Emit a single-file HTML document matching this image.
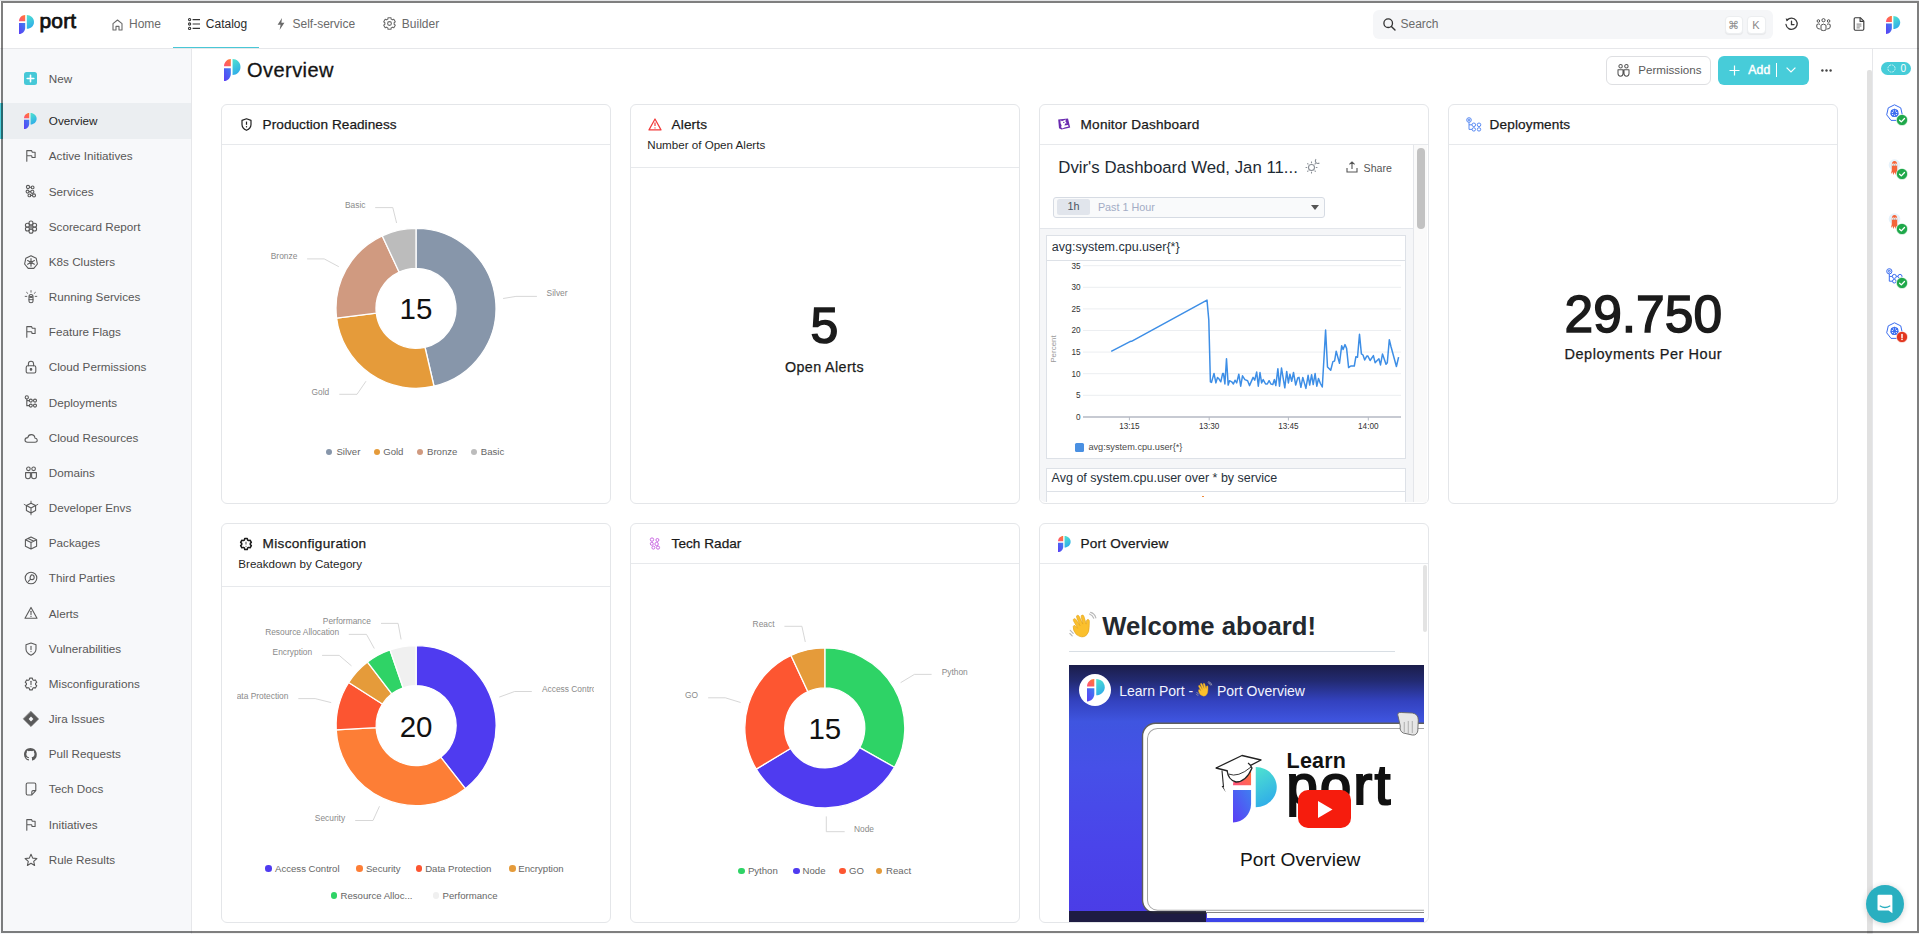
<!DOCTYPE html><html><head><meta charset="utf-8"><title>Port - Overview</title><style>
*{box-sizing:border-box;margin:0;padding:0}
html,body{width:1919px;height:934px;overflow:hidden;background:#fff;font-family:"Liberation Sans",Arial,sans-serif;color:#1f1f1f}
.a{position:absolute}
.t{position:absolute;white-space:nowrap;line-height:1}
svg{position:absolute;overflow:visible}
.card{position:absolute;width:390px;height:400px;border:1px solid #e4e6e9;border-radius:6px;background:#fff;overflow:hidden}
.cs{position:absolute;left:16px;top:34px;font-size:11.6px;color:#1f1f1f;white-space:nowrap}
.cd{position:absolute;left:0;right:0;height:1px;background:#e6e8eb}
.sb{position:absolute;left:49px;font-size:11.7px;color:#575757;white-space:nowrap;line-height:1}
.lg{position:absolute;font-size:9.6px;color:#666;white-space:nowrap;line-height:1}
.dot{position:absolute;width:7px;height:7px;border-radius:50%}
.pl{font-family:"Liberation Sans",Arial,sans-serif;font-size:8.4px;fill:#8a8a8a}
</style></head><body>
<div class="a" style="left:0;top:0;width:1919px;height:1px;background:#e3e4e6"></div>
<div class="a" style="left:0;top:933px;width:1919px;height:1px;background:#f4f4f4"></div>
<div class="a" style="left:0;top:1px;width:1919px;height:47px;background:#fff"></div>
<div class="a" style="left:0;top:48px;width:1919px;height:1px;background:#e6e7ea"></div>
<svg style="left:19px;top:15px" width="15.00" height="19.00" viewBox="0 0 15 19" preserveAspectRatio="none">
<defs><linearGradient id="lgna" x1="0" y1="1" x2="1" y2="0"><stop offset="0" stop-color="#ff4f7a"/><stop offset="1" stop-color="#ff7a2f"/></linearGradient>
<linearGradient id="lgnb" x1="0" y1="1" x2="1" y2="0"><stop offset="0" stop-color="#5b3df5"/><stop offset="1" stop-color="#3f7ff0"/></linearGradient>
<linearGradient id="lgnc" x1="0" y1="0" x2="0.3" y2="1"><stop offset="0" stop-color="#4fe3cf"/><stop offset="1" stop-color="#30aee8"/></linearGradient></defs>
<path d="M0 6.3 L6.2 6.3 L6.2 0 C2.8 0 0 2.8 0 6.3Z" fill="url(#lgna)"/>
<path d="M0 7.9 L6.2 7.9 L6.2 12.7 C6.2 16.1 3.4 19 0 19Z" fill="url(#lgnb)"/>
<path d="M7.8 0 C11.6 0 15 3 15 6.9 C15 10.8 11.6 13.8 7.8 13.8Z" fill="url(#lgnc)"/>
</svg>
<div class="t" style="left:39.60px;top:9.92px;font-size:21px;color:#111;-webkit-text-stroke:0.75px #111;letter-spacing:0.1px;">port</div>
<svg style="left:112px;top:18.5px" width="11" height="12" viewBox="0 0 11 12"><path d="M1 11V4.6L5.5 1 10 4.6V11H7V7.4H4V11Z" fill="none" stroke="#6a6a6a" stroke-width="1.1" stroke-linejoin="round"/></svg>
<div class="t" style="left:129.00px;top:17.84px;font-size:12px;color:#6a6a6a;">Home</div>
<svg style="left:188px;top:18px" width="13" height="12" viewBox="0 0 13 12"><g fill="none" stroke="#333" stroke-width="1.1"><circle cx="1.6" cy="1.6" r="1.1"/><circle cx="1.6" cy="6" r="1.1"/><circle cx="1.6" cy="10.4" r="1.1"/><path d="M4.6 1.6H12M4.6 6H12M4.6 10.4H12"/></g></svg>
<div class="t" style="left:205.80px;top:17.84px;font-size:12px;color:#2a2a2a;">Catalog</div>
<div class="a" style="left:173px;top:46.6px;width:86px;height:1.6px;background:#49c7d6"></div>
<svg style="left:277px;top:17.8px" width="8" height="12" viewBox="0 0 8 12"><path d="M5 0 L0.6 6.8 H3.6 L2.6 12 L7.4 4.8 H4.4 Z" fill="#6a6a6a"/></svg>
<div class="t" style="left:292.50px;top:17.84px;font-size:12px;color:#6a6a6a;">Self-service</div>
<svg style="left:383px;top:17.4px" width="13" height="13" viewBox="0 0 13 13"><path d="M4.82 2.11 L5.05 0.68 L7.95 0.68 L8.18 2.11 L9.46 2.85 L10.82 2.33 L12.27 4.85 L11.14 5.76 L11.14 7.24 L12.27 8.15 L10.82 10.67 L9.46 10.15 L8.18 10.89 L7.95 12.32 L5.05 12.32 L4.82 10.89 L3.54 10.15 L2.18 10.67 L0.73 8.15 L1.86 7.24 L1.86 5.76 L0.73 4.85 L2.18 2.33 L3.54 2.85Z" fill="none" stroke="#6a6a6a" stroke-width="1.1" stroke-linejoin="round"/><circle cx="6.5" cy="6.5" r="1.9" fill="none" stroke="#6a6a6a" stroke-width="1.1"/></svg>
<div class="t" style="left:401.80px;top:17.84px;font-size:12px;color:#6a6a6a;">Builder</div>
<div class="a" style="left:1373px;top:10px;width:400px;height:29px;background:#f5f6f8;border-radius:6px"></div>
<svg style="left:1382.5px;top:18px" width="13" height="13" viewBox="0 0 13 13"><circle cx="5.2" cy="5.2" r="4.3" fill="none" stroke="#333" stroke-width="1.3"/><path d="M8.4 8.4 L12 12" stroke="#333" stroke-width="1.4" stroke-linecap="round"/></svg>
<div class="t" style="left:1400.50px;top:18.04px;font-size:12px;color:#6b6b6b;">Search</div>
<div class="a" style="left:1724.5px;top:16px;width:18px;height:18px;background:#fff;border:1px solid #eceef0;border-radius:4px;box-shadow:0 1px 1px rgba(0,0,0,0.06)"></div>
<div class="t" style="left:1724.50px;width:18px;text-align:center;top:19.69px;font-size:11px;color:#8a8a8a;">&#8984;</div>
<div class="a" style="left:1746.5px;top:16px;width:19px;height:18px;background:#fff;border:1px solid #eceef0;border-radius:4px;box-shadow:0 1px 1px rgba(0,0,0,0.06)"></div>
<div class="t" style="left:1746.50px;width:19px;text-align:center;top:19.69px;font-size:11px;color:#8a8a8a;">K</div>
<svg style="left:1785px;top:17px" width="13" height="14" viewBox="0 0 13 14"><g fill="none" stroke="#3a3a3a" stroke-width="1.3" stroke-linecap="round"><path d="M2.2 3.2 A5.6 5.6 0 1 1 1 7.5"/><path d="M6.5 4.2V7.6H9"/></g><path d="M0.6 1.4 L3.6 1.9 L1.8 4.6Z" fill="#3a3a3a"/></svg>
<svg style="left:1816px;top:17.5px" width="15" height="13" viewBox="0 0 15 13"><g fill="none" stroke="#4a4a4a" stroke-width="0.95"><circle cx="7.5" cy="2.2" r="1.6"/><circle cx="2.4" cy="3" r="1.3"/><circle cx="12.6" cy="3" r="1.3"/><path d="M5 12 V7.2 Q7.5 5 10 7.2 V12 Q7.5 13.2 5 12Z"/><path d="M3.9 11 Q1 11 0.8 9 V6.6 Q2.3 5.4 4 6.3"/><path d="M11.1 11 Q14 11 14.2 9 V6.6 Q12.7 5.4 11 6.3"/></g></svg>
<svg style="left:1853px;top:17.2px" width="12" height="14" viewBox="0 0 12 14"><g fill="none" stroke="#3a3a3a" stroke-width="1.15" stroke-linejoin="round"><path d="M1.2 1.8 Q1.2 0.7 2.3 0.7 H7.3 L10.8 4.2 V12 Q10.8 13.2 9.7 13.2 H2.3 Q1.2 13.2 1.2 12Z"/><path d="M7.1 0.8 V4.4 H10.7"/></g><path d="M3.6 7.1 H8.4 M3.6 9 H8.4 M3.6 10.9 H6.8" stroke="#555" stroke-width="0.75"/></svg>
<svg style="left:1886px;top:15.5px" width="14.21" height="18.00" viewBox="0 0 15 19" preserveAspectRatio="none">
<defs><linearGradient id="lgn2a" x1="0" y1="1" x2="1" y2="0"><stop offset="0" stop-color="#ff4f7a"/><stop offset="1" stop-color="#ff7a2f"/></linearGradient>
<linearGradient id="lgn2b" x1="0" y1="1" x2="1" y2="0"><stop offset="0" stop-color="#5b3df5"/><stop offset="1" stop-color="#3f7ff0"/></linearGradient>
<linearGradient id="lgn2c" x1="0" y1="0" x2="0.3" y2="1"><stop offset="0" stop-color="#4fe3cf"/><stop offset="1" stop-color="#30aee8"/></linearGradient></defs>
<path d="M0 6.3 L6.2 6.3 L6.2 0 C2.8 0 0 2.8 0 6.3Z" fill="url(#lgn2a)"/>
<path d="M0 7.9 L6.2 7.9 L6.2 12.7 C6.2 16.1 3.4 19 0 19Z" fill="url(#lgn2b)"/>
<path d="M7.8 0 C11.6 0 15 3 15 6.9 C15 10.8 11.6 13.8 7.8 13.8Z" fill="url(#lgn2c)"/>
</svg>
<div class="a" style="left:0;top:49px;width:191px;height:885px;background:#f7f8fa"></div>
<div class="a" style="left:191px;top:49px;width:1px;height:885px;background:#e6e7ea"></div>
<div class="a" style="left:0;top:103px;width:191px;height:36px;background:#ebeef1"></div>
<div class="a" style="left:0;top:103px;width:3px;height:36px;background:#4ed0de"></div>
<div class="a" style="left:24px;top:72.4px;width:13px;height:13px;background:#46c8d7;border-radius:2.5px"></div>
<svg style="left:24px;top:72.4px" width="13" height="13" viewBox="0 0 13 13"><path d="M6.5 3.2V9.8M3.2 6.5H9.8" stroke="#fff" stroke-width="1.6" stroke-linecap="round"/></svg>
<div class="sb" style="left:48.80px;top:73.10px;font-size:11.7px;color:#575757;">New</div>
<svg style="left:24px;top:113px" width="12.63" height="16.00" viewBox="0 0 15 19" preserveAspectRatio="none">
<defs><linearGradient id="lgsba" x1="0" y1="1" x2="1" y2="0"><stop offset="0" stop-color="#ff4f7a"/><stop offset="1" stop-color="#ff7a2f"/></linearGradient>
<linearGradient id="lgsbb" x1="0" y1="1" x2="1" y2="0"><stop offset="0" stop-color="#5b3df5"/><stop offset="1" stop-color="#3f7ff0"/></linearGradient>
<linearGradient id="lgsbc" x1="0" y1="0" x2="0.3" y2="1"><stop offset="0" stop-color="#4fe3cf"/><stop offset="1" stop-color="#30aee8"/></linearGradient></defs>
<path d="M0 6.3 L6.2 6.3 L6.2 0 C2.8 0 0 2.8 0 6.3Z" fill="url(#lgsba)"/>
<path d="M0 7.9 L6.2 7.9 L6.2 12.7 C6.2 16.1 3.4 19 0 19Z" fill="url(#lgsbb)"/>
<path d="M7.8 0 C11.6 0 15 3 15 6.9 C15 10.8 11.6 13.8 7.8 13.8Z" fill="url(#lgsbc)"/>
</svg>
<div class="sb" style="left:48.80px;top:115.20px;font-size:11.7px;color:#1f1f1f;">Overview</div>
<svg style="left:23.5px;top:149.27px" width="14" height="14" viewBox="0 0 14 14"><g fill="none" stroke="#5a5a5a" stroke-width="1.1" stroke-linecap="round"><path d="M2.8 12.2 V1.6 H7.5 L8.3 3.2 H11.1 V8.5 H8.1 L7.7 6.8 H2.8" stroke-linejoin="round"/></g></svg>
<div class="sb" style="left:48.80px;top:150.37px;font-size:11.7px;color:#575757;">Active Initiatives</div>
<svg style="left:23.5px;top:184.44px" width="14" height="14" viewBox="0 0 14 14"><g fill="none" stroke="#5a5a5a" stroke-width="1.1" stroke-linecap="round"><circle cx="4" cy="3" r="1.6"/><circle cx="8.6" cy="3.4" r="1.4"/><circle cx="3.6" cy="7.6" r="1.5"/><circle cx="8.3" cy="7.8" r="1.6"/><circle cx="5.4" cy="11.4" r="1.4"/><circle cx="10" cy="11.4" r="1.5"/><path d="M5.5 3.2H7.2M5 7.6H6.7M6.8 11.4H8.5"/></g></svg>
<div class="sb" style="left:48.80px;top:185.54px;font-size:11.7px;color:#575757;">Services</div>
<svg style="left:23.5px;top:219.61px" width="14" height="14" viewBox="0 0 14 14"><g fill="none" stroke="#5a5a5a" stroke-width="1.1" stroke-linecap="round"><circle cx="7" cy="3" r="2"/><circle cx="3.4" cy="5.2" r="2"/><circle cx="10.6" cy="5.2" r="2"/><circle cx="3.4" cy="9" r="2"/><circle cx="10.6" cy="9" r="2"/><circle cx="7" cy="11.2" r="2"/><circle cx="7" cy="7" r="1.2"/></g></svg>
<div class="sb" style="left:48.80px;top:220.71px;font-size:11.7px;color:#575757;">Scorecard Report</div>
<svg style="left:23.5px;top:254.78px" width="14" height="14" viewBox="0 0 14 14"><g fill="none" stroke="#5a5a5a" stroke-width="1.1" stroke-linecap="round"><path d="M7 0.8 L12.2 3.3 L13.4 9 L9.8 13.4 H4.2 L0.6 9 L1.8 3.3Z" stroke-linejoin="round"/><circle cx="7" cy="7.4" r="1.2"/><path d="M7 3.6V11.2 M3.6 5.6 L10.4 9.2 M10.4 5.6 L3.6 9.2"/></g></svg>
<div class="sb" style="left:48.80px;top:255.88px;font-size:11.7px;color:#575757;">K8s Clusters</div>
<svg style="left:23.5px;top:289.95px" width="14" height="14" viewBox="0 0 14 14"><g fill="none" stroke="#5a5a5a" stroke-width="1.1" stroke-linecap="round"><path d="M5 6.6 Q5 4.5 7 4.5 Q9 4.5 9 6.6 V11.2 Q9 12.8 7 12.8 Q5 12.8 5 11.2Z"/><circle cx="6.2" cy="7" r="0.5" fill="#5a5a5a"/><circle cx="7.8" cy="7" r="0.5" fill="#5a5a5a"/><path d="M7 0.6V2.2 M2.6 2.4 L3.8 3.4 M11.4 2.4 L10.2 3.4 M1.2 6.4H2.8 M11.2 6.4H12.8 M5 9.6H9" stroke-width="0.9"/></g></svg>
<div class="sb" style="left:48.80px;top:291.05px;font-size:11.7px;color:#575757;">Running Services</div>
<svg style="left:23.5px;top:325.12px" width="14" height="14" viewBox="0 0 14 14"><g fill="none" stroke="#5a5a5a" stroke-width="1.1" stroke-linecap="round"><path d="M2.8 12.2 V1.6 H7.5 L8.3 3.2 H11.1 V8.5 H8.1 L7.7 6.8 H2.8" stroke-linejoin="round"/></g></svg>
<div class="sb" style="left:48.80px;top:326.22px;font-size:11.7px;color:#575757;">Feature Flags</div>
<svg style="left:23.5px;top:360.29px" width="14" height="14" viewBox="0 0 14 14"><g fill="none" stroke="#5a5a5a" stroke-width="1.1" stroke-linecap="round"><rect x="2.2" y="5.8" width="9.6" height="7.2" rx="1.6"/><path d="M4.4 5.8V4 Q4.4 1.2 7 1.2 Q9.6 1.2 9.6 4V5.8"/><circle cx="7" cy="9.4" r="0.8" fill="#5a5a5a"/></g></svg>
<div class="sb" style="left:48.80px;top:361.39px;font-size:11.7px;color:#575757;">Cloud Permissions</div>
<svg style="left:23.5px;top:395.46px" width="14" height="14" viewBox="0 0 14 14"><g fill="none" stroke="#5a5a5a" stroke-width="1.1" stroke-linecap="round"><circle cx="2.8" cy="2.4" r="1.6"/><circle cx="6.8" cy="5.6" r="1.5"/><circle cx="11" cy="5.6" r="1.5"/><circle cx="6.8" cy="10.6" r="1.5"/><circle cx="11" cy="10.6" r="1.5"/><path d="M2.8 4V10.6 H5.3 M2.8 5.6 H5.3"/></g></svg>
<div class="sb" style="left:48.80px;top:396.56px;font-size:11.7px;color:#575757;">Deployments</div>
<svg style="left:23.5px;top:430.63px" width="14" height="14" viewBox="0 0 14 14"><g fill="none" stroke="#5a5a5a" stroke-width="1.1" stroke-linecap="round"><path d="M3.6 11.2 H11 Q13.4 11.2 13.2 9 Q13 7.2 11 7.2 Q10.6 3.6 7.2 3.6 Q4.4 3.6 3.8 6.6 Q1 6.8 1 9 Q1 11.2 3.6 11.2Z" stroke-linejoin="round"/></g></svg>
<div class="sb" style="left:48.80px;top:431.73px;font-size:11.7px;color:#575757;">Cloud Resources</div>
<svg style="left:23.5px;top:465.80px" width="14" height="14" viewBox="0 0 14 14"><g fill="none" stroke="#5a5a5a" stroke-width="1.1" stroke-linecap="round"><circle cx="4.4" cy="2.8" r="1.8"/><circle cx="9.6" cy="2.8" r="1.8"/><path d="M1.6 6.6 V10.6 Q1.6 12.8 4 12.8 Q6.4 12.8 6.4 10.6 V6.6Z M7.6 6.6 V10.6 Q7.6 12.8 10 12.8 Q12.4 12.8 12.4 10.6 V6.6Z" stroke-linejoin="round"/></g></svg>
<div class="sb" style="left:48.80px;top:466.90px;font-size:11.7px;color:#575757;">Domains</div>
<svg style="left:23.5px;top:500.97px" width="14" height="14" viewBox="0 0 14 14"><g fill="none" stroke="#5a5a5a" stroke-width="1.1" stroke-linecap="round"><path d="M7 2.2 L11.6 4.6 V9.6 L7 12 L2.4 9.6 V4.6Z M2.4 4.6 L7 7 L11.6 4.6 M7 7V12" stroke-linejoin="round"/><path d="M7 0.2V2.2 M0.2 3.4 L2.4 4.6 M13.8 3.4 L11.6 4.6 M7 12V13.8" stroke-width="0.9"/></g></svg>
<div class="sb" style="left:48.80px;top:502.07px;font-size:11.7px;color:#575757;">Developer Envs</div>
<svg style="left:23.5px;top:536.14px" width="14" height="14" viewBox="0 0 14 14"><g fill="none" stroke="#5a5a5a" stroke-width="1.1" stroke-linecap="round"><path d="M7 1 L12.6 3.8 V10.2 L7 13 L1.4 10.2 V3.8Z M1.4 3.8 L7 6.6 L12.6 3.8 M7 6.6V13 M4.2 2.4 L9.8 5.2" stroke-linejoin="round"/></g></svg>
<div class="sb" style="left:48.80px;top:537.24px;font-size:11.7px;color:#575757;">Packages</div>
<svg style="left:23.5px;top:571.31px" width="14" height="14" viewBox="0 0 14 14"><g fill="none" stroke="#5a5a5a" stroke-width="1.1" stroke-linecap="round"><circle cx="7" cy="7" r="5.8"/><path d="M4.4 10.4 L6.6 8.2 M7.4 3.8 Q10.2 3.8 10.2 6.4 Q10.2 8.4 8 8.6 L6.6 8.2 Q5.2 6.8 7.4 3.8Z" stroke-linejoin="round"/></g></svg>
<div class="sb" style="left:48.80px;top:572.41px;font-size:11.7px;color:#575757;">Third Parties</div>
<svg style="left:23.5px;top:606.48px" width="14" height="14" viewBox="0 0 14 14"><g fill="none" stroke="#5a5a5a" stroke-width="1.1" stroke-linecap="round"><path d="M7 1.4 L13 12.2 H1Z" stroke-linejoin="round"/><path d="M7 5.2V8.6"/><circle cx="7" cy="10.4" r="0.6" fill="#5a5a5a" stroke="none"/></g></svg>
<div class="sb" style="left:48.80px;top:607.58px;font-size:11.7px;color:#575757;">Alerts</div>
<svg style="left:23.5px;top:641.65px" width="14" height="14" viewBox="0 0 14 14"><g fill="none" stroke="#5a5a5a" stroke-width="1.1" stroke-linecap="round"><path d="M7 1 L12 2.8 V7 Q12 11 7 13.2 Q2 11 2 7 V2.8Z" stroke-linejoin="round"/><path d="M7 4.4V7.6"/><circle cx="7" cy="9.6" r="0.6" fill="#5a5a5a" stroke="none"/></g></svg>
<div class="sb" style="left:48.80px;top:642.75px;font-size:11.7px;color:#575757;">Vulnerabilities</div>
<svg style="left:23.5px;top:676.82px" width="14" height="14" viewBox="0 0 14 14"><g fill="none" stroke="#5a5a5a" stroke-width="1.1" stroke-linecap="round"><path d="M5.28 2.73 L5.65 1.15 L8.35 1.15 L8.72 2.73 L9.83 3.38 L11.39 2.91 L12.74 5.25 L11.56 6.36 L11.56 7.64 L12.74 8.75 L11.39 11.09 L9.83 10.62 L8.72 11.27 L8.35 12.85 L5.65 12.85 L5.28 11.27 L4.17 10.62 L2.61 11.09 L1.26 8.75 L2.44 7.64 L2.44 6.36 L1.26 5.25 L2.61 2.91 L4.17 3.38Z" stroke-linejoin="round"/><path d="M7 4.2V7.6"/><circle cx="7" cy="9.6" r="0.6" fill="#5a5a5a" stroke="none"/></g></svg>
<div class="sb" style="left:48.80px;top:677.92px;font-size:11.7px;color:#575757;">Misconfigurations</div>
<svg style="left:23.5px;top:711.99px" width="14" height="14" viewBox="0 0 14 14"><g fill="none" stroke="#5a5a5a" stroke-width="1.1" stroke-linecap="round"><path d="M7 -0.6 L14.6 7 L7 14.6 L-0.6 7Z" fill="#5a5a5a" stroke="#5a5a5a" stroke-width="0.6" stroke-linejoin="round"/><path d="M7 4.6 L9.4 7 L7 9.4 L4.6 7Z" fill="#f7f8fa" stroke="none"/></g></svg>
<div class="sb" style="left:48.80px;top:713.09px;font-size:11.7px;color:#575757;">Jira Issues</div>
<svg style="left:24.1px;top:747.56px" width="12.8" height="12.8" viewBox="0 0 16 16"><path fill="#5a5a5a" d="M8 0C3.58 0 0 3.58 0 8c0 3.54 2.29 6.53 5.47 7.59.4.07.55-.17.55-.38 0-.19-.01-.82-.01-1.49-2.01.37-2.53-.49-2.69-.94-.09-.23-.48-.94-.82-1.13-.28-.15-.68-.52-.01-.53.63-.01 1.08.58 1.23.82.72 1.21 1.87.87 2.33.66.07-.52.28-.87.51-1.07-1.78-.2-3.64-.89-3.64-3.95 0-.87.31-1.59.82-2.15-.08-.2-.36-1.02.08-2.12 0 0 .67-.21 2.2.82.64-.18 1.32-.27 2-.27.68 0 1.36.09 2 .27 1.53-1.04 2.2-.82 2.2-.82.44 1.1.16 1.92.08 2.12.51.56.82 1.27.82 2.15 0 3.07-1.87 3.75-3.65 3.95.29.25.54.73.54 1.48 0 1.07-.01 1.93-.01 2.2 0 .21.15.46.55.38A8.013 8.013 0 0016 8c0-4.42-3.58-8-8-8z"/></svg>
<div class="sb" style="left:48.80px;top:748.26px;font-size:11.7px;color:#575757;">Pull Requests</div>
<svg style="left:23.5px;top:782.33px" width="14" height="14" viewBox="0 0 14 14"><g fill="none" stroke="#5a5a5a" stroke-width="1.1" stroke-linecap="round"><path d="M2.2 2.4 Q2.2 1 3.6 1 H10.4 Q11.8 1 11.8 2.4 V8.6 L7.8 13 H3.6 Q2.2 13 2.2 11.6Z M11.8 8.6 H9.2 Q7.8 8.6 7.8 10 V13" stroke-linejoin="round"/></g></svg>
<div class="sb" style="left:48.80px;top:783.43px;font-size:11.7px;color:#575757;">Tech Docs</div>
<svg style="left:23.5px;top:817.50px" width="14" height="14" viewBox="0 0 14 14"><g fill="none" stroke="#5a5a5a" stroke-width="1.1" stroke-linecap="round"><path d="M2.8 12.2 V1.6 H7.5 L8.3 3.2 H11.1 V8.5 H8.1 L7.7 6.8 H2.8" stroke-linejoin="round"/></g></svg>
<div class="sb" style="left:48.80px;top:818.60px;font-size:11.7px;color:#575757;">Initiatives</div>
<svg style="left:23.5px;top:852.67px" width="14" height="14" viewBox="0 0 14 14"><g fill="none" stroke="#5a5a5a" stroke-width="1.1" stroke-linecap="round"><path d="M7 1.2 L8.7 5.1 L12.9 5.5 L9.7 8.3 L10.6 12.5 L7 10.3 L3.4 12.5 L4.3 8.3 L1.1 5.5 L5.3 5.1Z" stroke-linejoin="round"/></g></svg>
<div class="sb" style="left:48.80px;top:853.77px;font-size:11.7px;color:#575757;">Rule Results</div>
<svg style="left:223.8px;top:59.2px" width="16.50" height="22.00" viewBox="0 0 15 19" preserveAspectRatio="none">
<defs><linearGradient id="lghda" x1="0" y1="1" x2="1" y2="0"><stop offset="0" stop-color="#ff4f7a"/><stop offset="1" stop-color="#ff7a2f"/></linearGradient>
<linearGradient id="lghdb" x1="0" y1="1" x2="1" y2="0"><stop offset="0" stop-color="#5b3df5"/><stop offset="1" stop-color="#3f7ff0"/></linearGradient>
<linearGradient id="lghdc" x1="0" y1="0" x2="0.3" y2="1"><stop offset="0" stop-color="#4fe3cf"/><stop offset="1" stop-color="#30aee8"/></linearGradient></defs>
<path d="M0 6.3 L6.2 6.3 L6.2 0 C2.8 0 0 2.8 0 6.3Z" fill="url(#lghda)"/>
<path d="M0 7.9 L6.2 7.9 L6.2 12.7 C6.2 16.1 3.4 19 0 19Z" fill="url(#lghdb)"/>
<path d="M7.8 0 C11.6 0 15 3 15 6.9 C15 10.8 11.6 13.8 7.8 13.8Z" fill="url(#lghdc)"/>
</svg>
<div class="t" style="left:247.00px;top:60.07px;font-size:20px;color:#141414;letter-spacing:0.45px;-webkit-text-stroke:0.3px #141414;">Overview</div>
<div class="a" style="left:1606px;top:56px;width:105px;height:29px;border:1px solid #dedfe2;border-radius:6px;background:#fff"></div>
<svg style="left:1616.5px;top:63.5px" width="13" height="13" viewBox="0 0 13 13"><g fill="none" stroke="#555" stroke-width="1.05"><circle cx="3.6" cy="2.2" r="1.7"/><circle cx="9.4" cy="2.2" r="1.7"/><path d="M1 5.8 V9.6 Q1 12.2 3.5 12.2 Q6 12.2 6 9.6 V5.8Z M7 5.8 V9.6 Q7 12.2 9.5 12.2 Q12 12.2 12 9.6 V5.8Z" stroke-linejoin="round"/></g></svg>
<div class="t" style="left:1638.30px;top:64.38px;font-size:11.6px;color:#5a5a5a;">Permissions</div>
<div class="a" style="left:1718px;top:56px;width:91px;height:29px;background:#47ccd9;border-radius:6px"></div>
<svg style="left:1729px;top:64.5px" width="11" height="11" viewBox="0 0 11 11"><path d="M5.5 0.5V10.5M0.5 5.5H10.5" stroke="#fff" stroke-width="1.2"/></svg>
<div class="t" style="left:1748.20px;top:63.97px;font-size:12.2px;color:#fff;-webkit-text-stroke:0.45px #fff;letter-spacing:0.2px;">Add</div>
<div class="a" style="left:1776px;top:63px;width:1px;height:14px;background:#fff"></div>
<svg style="left:1786px;top:67px" width="10" height="6" viewBox="0 0 10 6"><path d="M0.6 0.6 L5 5 L9.4 0.6" fill="none" stroke="#fff" stroke-width="1.2"/></svg>
<svg style="left:1821px;top:68.5px" width="11" height="3" viewBox="0 0 11 3"><circle cx="1.4" cy="1.5" r="1.2" fill="#444"/><circle cx="5.5" cy="1.5" r="1.2" fill="#444"/><circle cx="9.6" cy="1.5" r="1.2" fill="#444"/></svg>
<div class="a" style="left:1867px;top:70px;width:4.5px;height:864px;background:#e1e1e1;border-radius:2px 2px 0 0"></div>
<div class="a" style="left:1871.5px;top:49px;width:1px;height:885px;background:#e6e7ea"></div>
<div class="a" style="left:1881px;top:62px;width:30px;height:13px;background:#46ccd8;border-radius:7px"></div>
<svg style="left:1886.5px;top:64.3px" width="9" height="9" viewBox="0 0 9 9"><circle cx="4.5" cy="4.5" r="3.6" fill="none" stroke="#c8f0f4" stroke-width="1" stroke-dasharray="2 0.8"/></svg>
<div class="t" style="left:1900.60px;top:64.13px;font-size:10px;color:#fff;">0</div>
<svg style="left:1886px;top:104px" width="17" height="18" viewBox="0 0 17 18"><path d="M8.50 0.80 L14.75 3.89 L16.30 10.82 L11.97 16.39 L5.03 16.39 L0.70 10.82 L2.25 3.89Z" fill="#fff" stroke="#3a6df0" stroke-width="1" stroke-linejoin="round"/><circle cx="8.5" cy="9" r="3.4" fill="none" stroke="#3a6df0" stroke-width="1.3"/><path d="M8.5 9 L8.50 4.80 M8.5 9 L11.78 6.38 M8.5 9 L12.59 9.93 M8.5 9 L10.32 12.78 M8.5 9 L6.68 12.78 M8.5 9 L4.41 9.93 M8.5 9 L5.22 6.38 " stroke="#3a6df0" stroke-width="1.1"/><circle cx="8.5" cy="9" r="1" fill="#3a6df0"/></svg>
<svg style="left:1895.50px;top:114.30px" width="12" height="12" viewBox="-6 -6 12 12"><circle r="5.6" fill="#1fa84a" stroke="#fff" stroke-width="0.6"/><path d="M-2.4 0.2 L-0.7 1.9 L2.5 -1.5" fill="none" stroke="#fff" stroke-width="1.3" stroke-linecap="round" stroke-linejoin="round"/></svg>
<svg style="left:1888px;top:159.3px" width="13" height="17" viewBox="0 0 13 17"><circle cx="6.5" cy="6" r="5.8" fill="#e3f1fb" opacity="0.9"/><path d="M3.8 6 Q3.8 2 6.5 2 Q9.2 2 9.2 6 V11 L10.2 15 L8.6 13 L8 16 L6.6 13.2 L5.2 16 L4.6 13 L3 15 L3.8 11Z" fill="#f4643a"/><circle cx="5.3" cy="5.8" r="1.3" fill="#fff"/><circle cx="7.7" cy="5.8" r="1.3" fill="#fff"/><circle cx="5.3" cy="5.9" r="0.5" fill="#333"/><circle cx="7.7" cy="5.9" r="0.5" fill="#333"/></svg>
<svg style="left:1895.50px;top:168.20px" width="12" height="12" viewBox="-6 -6 12 12"><circle r="5.6" fill="#1fa84a" stroke="#fff" stroke-width="0.6"/><path d="M-2.4 0.2 L-0.7 1.9 L2.5 -1.5" fill="none" stroke="#fff" stroke-width="1.3" stroke-linecap="round" stroke-linejoin="round"/></svg>
<svg style="left:1888px;top:213.2px" width="13" height="17" viewBox="0 0 13 17"><circle cx="6.5" cy="6" r="5.8" fill="#e3f1fb" opacity="0.9"/><path d="M3.8 6 Q3.8 2 6.5 2 Q9.2 2 9.2 6 V11 L10.2 15 L8.6 13 L8 16 L6.6 13.2 L5.2 16 L4.6 13 L3 15 L3.8 11Z" fill="#f4643a"/><circle cx="5.3" cy="5.8" r="1.3" fill="#fff"/><circle cx="7.7" cy="5.8" r="1.3" fill="#fff"/><circle cx="5.3" cy="5.9" r="0.5" fill="#333"/><circle cx="7.7" cy="5.9" r="0.5" fill="#333"/></svg>
<svg style="left:1895.50px;top:222.60px" width="12" height="12" viewBox="-6 -6 12 12"><circle r="5.6" fill="#1fa84a" stroke="#fff" stroke-width="0.6"/><path d="M-2.4 0.2 L-0.7 1.9 L2.5 -1.5" fill="none" stroke="#fff" stroke-width="1.3" stroke-linecap="round" stroke-linejoin="round"/></svg>
<svg style="left:1886px;top:268px" width="17" height="16" viewBox="0 0 17 16"><g fill="none" stroke="#3a6df0" stroke-width="1"><circle cx="3.3" cy="3.3" r="2.6"/><circle cx="3.3" cy="3.3" r="1"/><circle cx="8.3" cy="8.4" r="2"/><circle cx="14" cy="8.4" r="2"/><circle cx="8.3" cy="13.2" r="1.8"/><path d="M3.3 5.9 V13.2 H6.5 M3.3 8.4 H6.3 M10.3 8.4 H12"/></g></svg>
<svg style="left:1895.50px;top:277.30px" width="12" height="12" viewBox="-6 -6 12 12"><circle r="5.6" fill="#1fa84a" stroke="#fff" stroke-width="0.6"/><path d="M-2.4 0.2 L-0.7 1.9 L2.5 -1.5" fill="none" stroke="#fff" stroke-width="1.3" stroke-linecap="round" stroke-linejoin="round"/></svg>
<svg style="left:1886px;top:321.5px" width="17" height="18" viewBox="0 0 17 18"><path d="M8.50 0.80 L14.75 3.89 L16.30 10.82 L11.97 16.39 L5.03 16.39 L0.70 10.82 L2.25 3.89Z" fill="#fff" stroke="#3a6df0" stroke-width="1" stroke-linejoin="round"/><circle cx="8.5" cy="9" r="3.4" fill="none" stroke="#3a6df0" stroke-width="1.3"/><path d="M8.5 9 L8.50 4.80 M8.5 9 L11.78 6.38 M8.5 9 L12.59 9.93 M8.5 9 L10.32 12.78 M8.5 9 L6.68 12.78 M8.5 9 L4.41 9.93 M8.5 9 L5.22 6.38 " stroke="#3a6df0" stroke-width="1.1"/><circle cx="8.5" cy="9" r="1" fill="#3a6df0"/></svg>
<svg style="left:1895.50px;top:331.10px" width="12" height="12" viewBox="-6 -6 12 12"><circle r="5.6" fill="#e2361f" stroke="#fff" stroke-width="0.6"/><path d="M0 -2.6V0.8" stroke="#fff" stroke-width="1.5" stroke-linecap="round"/><circle cx="0" cy="2.5" r="0.8" fill="#fff"/></svg>
<div class="a" style="left:1866px;top:885px;width:38px;height:38px;border-radius:50%;background:#29afc0;box-shadow:0 1px 6px rgba(0,0,0,0.18)"></div>
<svg style="left:1876px;top:894px" width="18" height="20" viewBox="0 0 18 20"><path d="M1.5 2 Q1.5 0.8 2.7 0.8 H15 Q16.4 0.8 16.4 2.2 V19.2 L12.6 16.4 H2.7 Q1.5 16.4 1.5 15.2Z" fill="#fff"/><path d="M4.2 12 Q9 15 13.8 12" fill="none" stroke="#29afc0" stroke-width="1.3" stroke-linecap="round"/></svg>
<div class="card" style="left:221px;top:104px"></div>
<div class="card" style="left:630px;top:104px"></div>
<div class="card" style="left:1039px;top:104px"></div>
<div class="card" style="left:1448px;top:104px"></div>
<div class="card" style="left:221px;top:523px"></div>
<div class="card" style="left:630px;top:523px"></div>
<div class="card" style="left:1039px;top:523px"></div>
<svg style="left:240.8px;top:117.8px" width="11" height="13" viewBox="0 0 11 13"><path d="M5.5 0.8 L10 2.4 V6.4 Q10 10.2 5.5 12.3 Q1 10.2 1 6.4 V2.4Z" fill="none" stroke="#222" stroke-width="1.2" stroke-linejoin="round"/><path d="M5.5 3.6V6.8" stroke="#222" stroke-width="1.2"/><circle cx="5.5" cy="8.7" r="0.7" fill="#222"/></svg>
<div class="t" style="left:262.60px;top:117.69px;font-size:13.6px;color:#1a1a1a;-webkit-text-stroke:0.25px #1a1a1a;letter-spacing:0.05px;">Production Readiness</div>
<div class="a" style="left:222px;top:144px;width:388px;height:1px;background:#e7e9ec"></div>
<svg style="left:0;top:0" width="1919" height="934" viewBox="0 0 1919 934"><path d="M416.00 228.30 A80 80 0 0 1 434.00 386.25 L425.00 347.27 A40 40 0 0 0 416.00 268.30Z" fill="#8796aa" stroke="#fff" stroke-width="1.3" stroke-linejoin="round"/><path d="M434.00 386.25 A80 80 0 0 1 336.60 318.05 L376.30 313.17 A40 40 0 0 0 425.00 347.27Z" fill="#e59b3a" stroke="#fff" stroke-width="1.3" stroke-linejoin="round"/><path d="M336.60 318.05 A80 80 0 0 1 382.19 235.80 L399.10 272.05 A40 40 0 0 0 376.30 313.17Z" fill="#d09a80" stroke="#fff" stroke-width="1.3" stroke-linejoin="round"/><path d="M382.19 235.80 A80 80 0 0 1 416.00 228.30 L416.00 268.30 A40 40 0 0 0 399.10 272.05Z" fill="#bcbcbc" stroke="#fff" stroke-width="1.3" stroke-linejoin="round"/><polyline points="375.2,207.6 392.8,207.6 396.6,223.0" fill="none" stroke="#d2d2d2" stroke-width="0.9"/><text class="pl" x="365.5" y="208" text-anchor="end">Basic</text><polyline points="307.1,258.9 324.2,258.9 338.8,266.7" fill="none" stroke="#d2d2d2" stroke-width="0.9"/><text class="pl" x="297.3" y="258.5" text-anchor="end">Bronze</text><polyline points="503.1,298.5 515.9,296.4 536.9,296.4" fill="none" stroke="#d2d2d2" stroke-width="0.9"/><text class="pl" x="546.6" y="296.2" text-anchor="start">Silver</text><polyline points="339.3,394.3 357.0,394.3 366.0,381.2" fill="none" stroke="#d2d2d2" stroke-width="0.9"/><text class="pl" x="329.2" y="394.9" text-anchor="end">Gold</text></svg>
<div class="t" style="left:376.00px;width:80px;text-align:center;top:294.23px;font-size:29.5px;color:#111;">15</div>
<div class="dot" style="left:325.9px;top:448.60px;width:6.6px;height:6.6px;background:#8796aa"></div>
<div class="t" style="left:336.40px;top:446.87px;font-size:9.6px;color:#666;">Silver</div>
<div class="dot" style="left:373.9px;top:448.60px;width:6.6px;height:6.6px;background:#e59b3a"></div>
<div class="t" style="left:383.20px;top:446.87px;font-size:9.6px;color:#666;">Gold</div>
<div class="dot" style="left:416.9px;top:448.60px;width:6.6px;height:6.6px;background:#d09a80"></div>
<div class="t" style="left:427.00px;top:446.87px;font-size:9.6px;color:#666;">Bronze</div>
<div class="dot" style="left:470.9px;top:448.60px;width:6.6px;height:6.6px;background:#bcbcbc"></div>
<div class="t" style="left:480.80px;top:446.87px;font-size:9.6px;color:#666;">Basic</div>
<svg style="left:648.3px;top:117.6px" width="14" height="13" viewBox="0 0 14 13"><path d="M7 1 L13 11.9 H1Z" fill="none" stroke="#f23a3a" stroke-width="1.2" stroke-linejoin="round"/><path d="M7 4.6V8" stroke="#f23a3a" stroke-width="1.2"/><circle cx="7" cy="9.9" r="0.65" fill="#f23a3a"/></svg>
<div class="t" style="left:671.60px;top:117.69px;font-size:13.6px;color:#1a1a1a;-webkit-text-stroke:0.25px #1a1a1a;letter-spacing:0.12px;">Alerts</div>
<div class="t" style="left:647.30px;top:138.98px;font-size:11.6px;color:#1f1f1f;">Number of Open Alerts</div>
<div class="a" style="left:631px;top:167px;width:388px;height:1px;background:#e7e9ec"></div>
<div class="t" style="left:774.50px;width:100px;text-align:center;top:301.28px;font-size:50px;color:#1b1b1b;-webkit-text-stroke:1.5px #1b1b1b;">5</div>
<div class="t" style="left:724.50px;width:200px;text-align:center;top:359.80px;font-size:14.3px;color:#1b1b1b;-webkit-text-stroke:0.25px #1b1b1b;letter-spacing:0.4px;">Open Alerts</div>
<svg style="left:1465.5px;top:117px" width="16" height="15" viewBox="0 0 16 15"><g fill="none" stroke="#4a7ff0" stroke-width="0.9"><circle cx="3" cy="3" r="2.3"/><circle cx="3" cy="3" r="0.9"/><circle cx="7.8" cy="7.8" r="1.8"/><circle cx="13" cy="7.8" r="1.8"/><circle cx="7.8" cy="12.4" r="1.7"/><circle cx="13" cy="12.4" r="1.7"/><path d="M3 5.3 V12.4 H6.1 M3 7.8 H6"/></g></svg>
<div class="t" style="left:1489.60px;top:117.69px;font-size:13.6px;color:#1a1a1a;-webkit-text-stroke:0.25px #1a1a1a;letter-spacing:0.12px;">Deployments</div>
<div class="a" style="left:1449px;top:144px;width:388px;height:1px;background:#e7e9ec"></div>
<div class="t" style="left:1493.30px;width:300px;text-align:center;top:288.71px;font-size:51.5px;color:#1b1b1b;-webkit-text-stroke:1.5px #1b1b1b;">29.750</div>
<div class="t" style="left:1493.30px;width:300px;text-align:center;top:347.43px;font-size:14.5px;color:#1b1b1b;-webkit-text-stroke:0.25px #1b1b1b;letter-spacing:0.55px;">Deployments Per Hour</div>
<svg style="left:239px;top:537px" width="14" height="14" viewBox="0 0 14 14"><path d="M5.39 3.01 L5.74 1.54 L8.26 1.54 L8.61 3.01 L9.65 3.61 L11.10 3.18 L12.36 5.36 L11.26 6.40 L11.26 7.60 L12.36 8.64 L11.10 10.82 L9.65 10.39 L8.61 10.99 L8.26 12.46 L5.74 12.46 L5.39 10.99 L4.35 10.39 L2.90 10.82 L1.64 8.64 L2.74 7.60 L2.74 6.40 L1.64 5.36 L2.90 3.18 L4.35 3.61Z" fill="none" stroke="#1a1a1a" stroke-width="1.5" stroke-linejoin="round"/><path d="M7 4.8V7.6" stroke="#555" stroke-width="1.1"/><circle cx="7" cy="9.2" r="0.55" fill="#555"/></svg>
<div class="t" style="left:262.60px;top:536.69px;font-size:13.6px;color:#1a1a1a;-webkit-text-stroke:0.25px #1a1a1a;letter-spacing:0.3px;">Misconfiguration</div>
<div class="t" style="left:238.30px;top:557.98px;font-size:11.6px;color:#1f1f1f;">Breakdown by Category</div>
<div class="a" style="left:222px;top:586px;width:388px;height:1px;background:#e7e9ec"></div>
<svg style="left:237px;top:0px;overflow:hidden" width="357" height="934" viewBox="237 0 357 934"><path d="M416.10 645.60 A80 80 0 0 1 465.35 788.64 L440.73 757.12 A40 40 0 0 0 416.10 685.60Z" fill="#4f3bf0" stroke="#fff" stroke-width="1.3" stroke-linejoin="round"/><path d="M465.35 788.64 A80 80 0 0 1 336.21 729.79 L376.15 727.69 A40 40 0 0 0 440.73 757.12Z" fill="#fd7e36" stroke="#fff" stroke-width="1.3" stroke-linejoin="round"/><path d="M336.21 729.79 A80 80 0 0 1 348.70 682.50 L382.40 704.05 A40 40 0 0 0 376.15 727.69Z" fill="#fc5531" stroke="#fff" stroke-width="1.3" stroke-linejoin="round"/><path d="M348.70 682.50 A80 80 0 0 1 367.51 662.05 L391.80 693.82 A40 40 0 0 0 382.40 704.05Z" fill="#e59b3a" stroke="#fff" stroke-width="1.3" stroke-linejoin="round"/><path d="M367.51 662.05 A80 80 0 0 1 390.05 649.96 L403.08 687.78 A40 40 0 0 0 391.80 693.82Z" fill="#2fd366" stroke="#fff" stroke-width="1.3" stroke-linejoin="round"/><path d="M390.05 649.96 A80 80 0 0 1 416.10 645.60 L416.10 685.60 A40 40 0 0 0 403.08 687.78Z" fill="#f0f0f0" stroke="#fff" stroke-width="1.3" stroke-linejoin="round"/><polyline points="381.0,623.4 398.1,623.4 401.1,639.4" fill="none" stroke="#d2d2d2" stroke-width="0.9"/><text class="pl" x="370.8" y="623.7" text-anchor="end">Performance</text><polyline points="348.8,634.4 366.5,634.4 374.3,648.5" fill="none" stroke="#d2d2d2" stroke-width="0.9"/><text class="pl" x="339.2" y="634.8" text-anchor="end">Resource Allocation</text><polyline points="322.1,655.4 339.2,655.4 351.5,665.9" fill="none" stroke="#d2d2d2" stroke-width="0.9"/><text class="pl" x="312.2" y="655" text-anchor="end">Encryption</text><polyline points="298.3,698.6 315.1,698.6 331.2,702.6" fill="none" stroke="#d2d2d2" stroke-width="0.9"/><text class="pl" x="288.4" y="698.9" text-anchor="end">Data Protection</text><polyline points="499.3,697.1 514.6,691.5 531.8,691.5" fill="none" stroke="#d2d2d2" stroke-width="0.9"/><text class="pl" x="542" y="691.8" text-anchor="start">Access Control</text><polyline points="355.2,820.5 373.0,820.5 379.5,806.2" fill="none" stroke="#d2d2d2" stroke-width="0.9"/><text class="pl" x="345.1" y="820.7" text-anchor="end">Security</text></svg>
<div class="t" style="left:376.10px;width:80px;text-align:center;top:711.53px;font-size:29.5px;color:#111;">20</div>
<div class="dot" style="left:265.2px;top:865.30px;width:6.6px;height:6.6px;background:#4f3bf0"></div>
<div class="t" style="left:275.00px;top:863.57px;font-size:9.6px;color:#666;">Access Control</div>
<div class="dot" style="left:356.1px;top:865.30px;width:6.6px;height:6.6px;background:#fd7e36"></div>
<div class="t" style="left:365.90px;top:863.57px;font-size:9.6px;color:#666;">Security</div>
<div class="dot" style="left:415.9px;top:865.30px;width:6.6px;height:6.6px;background:#fc5531"></div>
<div class="t" style="left:425.20px;top:863.57px;font-size:9.6px;color:#666;">Data Protection</div>
<div class="dot" style="left:509px;top:865.30px;width:6.6px;height:6.6px;background:#e59b3a"></div>
<div class="t" style="left:518.30px;top:863.57px;font-size:9.6px;color:#666;">Encryption</div>
<div class="dot" style="left:330.9px;top:892.40px;width:6.6px;height:6.6px;background:#2fd366"></div>
<div class="t" style="left:340.50px;top:890.67px;font-size:9.6px;color:#666;">Resource Alloc...</div>
<div class="dot" style="left:432.8px;top:892.40px;width:6.6px;height:6.6px;background:#f0f0f0"></div>
<div class="t" style="left:442.60px;top:890.67px;font-size:9.6px;color:#666;">Performance</div>
<svg style="left:649px;top:537.2px" width="12" height="13" viewBox="0 0 12 13"><g fill="none" stroke="#c55be0" stroke-width="0.9"><circle cx="3" cy="2.6" r="1.7"/><circle cx="8.4" cy="3" r="1.5"/><circle cx="2.8" cy="6.8" r="1.5"/><circle cx="7.6" cy="7" r="1.7"/><circle cx="4.4" cy="10.6" r="1.5"/><circle cx="9" cy="10.6" r="1.6"/></g></svg>
<div class="t" style="left:671.60px;top:536.69px;font-size:13.6px;color:#1a1a1a;-webkit-text-stroke:0.25px #1a1a1a;letter-spacing:0.03px;">Tech Radar</div>
<div class="a" style="left:631px;top:563px;width:388px;height:1px;background:#e7e9ec"></div>
<svg style="left:0;top:0" width="1919" height="934" viewBox="0 0 1919 934"><path d="M824.80 647.90 A80 80 0 0 1 894.43 767.29 L859.61 747.60 A40 40 0 0 0 824.80 687.90Z" fill="#2ed366" stroke="#fff" stroke-width="1.3" stroke-linejoin="round"/><path d="M894.43 767.29 A80 80 0 0 1 756.23 769.10 L790.51 748.50 A40 40 0 0 0 859.61 747.60Z" fill="#4f3bf0" stroke="#fff" stroke-width="1.3" stroke-linejoin="round"/><path d="M756.23 769.10 A80 80 0 0 1 790.99 655.40 L807.90 691.65 A40 40 0 0 0 790.51 748.50Z" fill="#fd5631" stroke="#fff" stroke-width="1.3" stroke-linejoin="round"/><path d="M790.99 655.40 A80 80 0 0 1 824.80 647.90 L824.80 687.90 A40 40 0 0 0 807.90 691.65Z" fill="#e59b3a" stroke="#fff" stroke-width="1.3" stroke-linejoin="round"/><polyline points="784.4,626.3 801.9,626.3 805.3,642.0" fill="none" stroke="#d2d2d2" stroke-width="0.9"/><text class="pl" x="774.5" y="626.9" text-anchor="end">React</text><polyline points="900.6,682.7 914.4,674.4 931.6,674.4" fill="none" stroke="#d2d2d2" stroke-width="0.9"/><text class="pl" x="941.7" y="674.8" text-anchor="start">Python</text><polyline points="708.1,697.8 725.3,697.8 740.6,702.5" fill="none" stroke="#d2d2d2" stroke-width="0.9"/><text class="pl" x="698" y="697.8" text-anchor="end">GO</text><polyline points="826.3,816.4 826.3,831.7 844.7,831.7" fill="none" stroke="#d2d2d2" stroke-width="0.9"/><text class="pl" x="854" y="831.7" text-anchor="start">Node</text></svg>
<div class="t" style="left:784.80px;width:80px;text-align:center;top:713.83px;font-size:29.5px;color:#111;">15</div>
<div class="dot" style="left:738px;top:867.70px;width:6.6px;height:6.6px;background:#2ed366"></div>
<div class="t" style="left:747.90px;top:865.97px;font-size:9.6px;color:#666;">Python</div>
<div class="dot" style="left:793.1px;top:867.70px;width:6.6px;height:6.6px;background:#4f3bf0"></div>
<div class="t" style="left:802.60px;top:865.97px;font-size:9.6px;color:#666;">Node</div>
<div class="dot" style="left:839px;top:867.70px;width:6.6px;height:6.6px;background:#fd5631"></div>
<div class="t" style="left:849.10px;top:865.97px;font-size:9.6px;color:#666;">GO</div>
<div class="dot" style="left:875.9px;top:867.70px;width:6.6px;height:6.6px;background:#e59b3a"></div>
<div class="t" style="left:886.10px;top:865.97px;font-size:9.6px;color:#666;">React</div>
<svg style="left:1057.9px;top:117.8px" width="12.5" height="12" viewBox="0 0 12.5 12"><path d="M0.2 1.4 L10 0.4 L12.2 9.4 L3.6 11.6 L1 10.2Z" fill="#6a2bb0"/><path d="M2.4 2.6 Q3.4 2.2 3.8 3.2 L5.6 2.4 L7.8 1.6 L7.4 3.6 L8.8 5.2 L7.2 5.6 L6.4 7.4 L10 7 L10.6 8.4 L6.4 9.4 L4.6 10.4 L3 9.2 L3.6 7.6 L2.6 5.2Z" fill="#fff"/><circle cx="5.8" cy="4.4" r="0.7" fill="#6a2bb0"/></svg>
<div class="t" style="left:1080.60px;top:117.69px;font-size:13.6px;color:#1a1a1a;-webkit-text-stroke:0.25px #1a1a1a;letter-spacing:0.2px;">Monitor Dashboard</div>
<div class="a" style="left:1040px;top:144px;width:388px;height:1px;background:#e7e9ec"></div>
<div class="a" style="left:1040px;top:145px;width:373px;height:357px;overflow:hidden;border-bottom-left-radius:5px"><div class="a" style="left:-1040px;top:-145px;width:1919px;height:934px">
<div class="a" style="left:1040px;top:229px;width:373px;height:280px;background:#f5f6f8"></div>
<div class="a" style="left:1040px;top:228px;width:373px;height:1px;background:#e3e6eb"></div>
<div class="t" style="left:1058.30px;top:160.38px;font-size:16.8px;color:#1d2a33;">Dvir's Dashboard Wed, Jan 11...</div>
<svg style="left:1304px;top:158px" width="17" height="17" viewBox="0 0 17 17"><g fill="none" stroke="#8a8f96" stroke-width="1.1"><circle cx="7.5" cy="9.5" r="3"/><path d="M7.5 3.6V5.2 M7.5 13.8V15.4 M1.6 9.5H3.2 M11.8 9.5H13.4 M3.3 5.3 L4.4 6.4 M10.6 12.6 L11.7 13.7 M3.3 13.7 L4.4 12.6 M10.6 6.4 L11.7 5.3"/><path d="M12 1.2 Q10.6 3 12 4.8 Q13.6 6 15.4 5" /></g></svg>
<svg style="left:1345.8px;top:161px" width="12" height="12" viewBox="0 0 12 12"><g fill="none" stroke="#555" stroke-width="1.1"><path d="M6 8V1 M3.4 3.4 L6 0.9 L8.6 3.4 M1 7V11 H11 V7"/></g></svg>
<div class="t" style="left:1363.60px;top:162.63px;font-size:10.6px;color:#555;">Share</div>
<div class="a" style="left:1053.2px;top:196.5px;width:271.5px;height:21px;border:1px solid #d6dbe3;border-radius:3px;background:#f9fafb"></div>
<div class="a" style="left:1057.3px;top:199.3px;width:32.5px;height:15.5px;background:#e1e5ec;border-radius:2.5px"></div>
<div class="t" style="left:1058.50px;width:30px;text-align:center;top:201.46px;font-size:10.8px;color:#4b5461;">1h</div>
<div class="t" style="left:1097.90px;top:201.86px;font-size:10.8px;color:#a3acc5;">Past 1 Hour</div>
<svg style="left:1310.5px;top:204.5px" width="8" height="5" viewBox="0 0 8 5"><path d="M0 0H8L4 5Z" fill="#555"/></svg>
<div class="a" style="left:1046.4px;top:235.4px;width:359.4px;height:224px;border:1px solid #dde1e7;background:#fff"></div>
<div class="t" style="left:1051.80px;top:241.42px;font-size:12.5px;color:#27313b;">avg:system.cpu.user{*}</div>
<div class="a" style="left:1047.4px;top:260.3px;width:357.4px;height:1px;background:#dde1e7"></div>
<svg style="left:0;top:0" width="1919" height="934" viewBox="0 0 1919 934"><line x1="1083" y1="265.7" x2="1401" y2="265.7" stroke="#eceef1" stroke-width="1"/><text x="1080.5" y="268.6" text-anchor="end" font-size="8.2" fill="#333" font-family="Liberation Sans,Arial,sans-serif">35</text><line x1="1083" y1="287.3" x2="1401" y2="287.3" stroke="#eceef1" stroke-width="1"/><text x="1080.5" y="290.2" text-anchor="end" font-size="8.2" fill="#333" font-family="Liberation Sans,Arial,sans-serif">30</text><line x1="1083" y1="308.9" x2="1401" y2="308.9" stroke="#eceef1" stroke-width="1"/><text x="1080.5" y="311.8" text-anchor="end" font-size="8.2" fill="#333" font-family="Liberation Sans,Arial,sans-serif">25</text><line x1="1083" y1="330.5" x2="1401" y2="330.5" stroke="#eceef1" stroke-width="1"/><text x="1080.5" y="333.4" text-anchor="end" font-size="8.2" fill="#333" font-family="Liberation Sans,Arial,sans-serif">20</text><line x1="1083" y1="352.1" x2="1401" y2="352.1" stroke="#eceef1" stroke-width="1"/><text x="1080.5" y="355.0" text-anchor="end" font-size="8.2" fill="#333" font-family="Liberation Sans,Arial,sans-serif">15</text><line x1="1083" y1="373.7" x2="1401" y2="373.7" stroke="#eceef1" stroke-width="1"/><text x="1080.5" y="376.6" text-anchor="end" font-size="8.2" fill="#333" font-family="Liberation Sans,Arial,sans-serif">10</text><line x1="1083" y1="395.3" x2="1401" y2="395.3" stroke="#eceef1" stroke-width="1"/><text x="1080.5" y="398.2" text-anchor="end" font-size="8.2" fill="#333" font-family="Liberation Sans,Arial,sans-serif">5</text><text x="1080.5" y="419.8" text-anchor="end" font-size="8.2" fill="#333" font-family="Liberation Sans,Arial,sans-serif">0</text><line x1="1083" y1="417" x2="1401" y2="417" stroke="#b5b9c3" stroke-width="1.6"/><line x1="1129.4" y1="417" x2="1129.4" y2="420.5" stroke="#b5b9c3" stroke-width="1"/><text x="1129.4" y="429.3" text-anchor="middle" font-size="8.2" fill="#333" font-family="Liberation Sans,Arial,sans-serif">13:15</text><line x1="1209.2" y1="417" x2="1209.2" y2="420.5" stroke="#b5b9c3" stroke-width="1"/><text x="1209.2" y="429.3" text-anchor="middle" font-size="8.2" fill="#333" font-family="Liberation Sans,Arial,sans-serif">13:30</text><line x1="1288.4" y1="417" x2="1288.4" y2="420.5" stroke="#b5b9c3" stroke-width="1"/><text x="1288.4" y="429.3" text-anchor="middle" font-size="8.2" fill="#333" font-family="Liberation Sans,Arial,sans-serif">13:45</text><line x1="1368.3" y1="417" x2="1368.3" y2="420.5" stroke="#b5b9c3" stroke-width="1"/><text x="1368.3" y="429.3" text-anchor="middle" font-size="8.2" fill="#333" font-family="Liberation Sans,Arial,sans-serif">14:00</text><text transform="translate(1056.4 349) rotate(-90)" text-anchor="middle" font-size="8" fill="#9a9a9a" font-family="Liberation Sans,Arial,sans-serif">Percent</text><path d="M1111.2 351.4 L1130.0 341.6 L1131.5 341.3 L1207.0 300.1 L1208.8 320.0 L1210.4 381.8 L1211.5 382.4 L1214.0 373.4 L1215.9 382.9 L1217.5 377.4 L1219.1 379.1 L1220.8 381.8 L1222.6 373.6 L1223.5 373.6 L1224.9 384.0 L1226.5 358.8 L1228.2 385.1 L1229.5 380.7 L1231.7 381.8 L1233.4 384.0 L1235.0 380.2 L1236.7 382.9 L1238.8 374.2 L1240.7 386.2 L1242.5 375.8 L1244.9 379.6 L1247.6 380.7 L1249.5 385.6 L1253.1 377.4 L1254.7 380.2 L1256.7 372.0 L1258.3 386.2 L1260.0 372.5 L1261.6 382.9 L1263.2 379.6 L1265.6 384.0 L1267.3 384.0 L1269.1 380.7 L1270.9 384.0 L1272.8 384.6 L1274.4 379.6 L1275.8 385.6 L1277.9 368.7 L1279.5 386.2 L1281.5 368.1 L1284.8 387.8 L1286.7 371.4 L1288.4 382.9 L1289.9 374.2 L1291.7 381.3 L1293.5 372.5 L1295.7 385.1 L1297.7 378.0 L1299.0 377.4 L1300.9 387.3 L1302.8 377.4 L1305.9 388.4 L1308.1 375.3 L1309.7 385.1 L1311.6 374.7 L1313.2 384.6 L1315.1 373.6 L1316.8 386.2 L1318.5 378.5 L1320.4 383.5 L1322.3 387.0 L1325.6 330.1 L1327.5 367.0 L1330.7 370.3 L1332.9 361.6 L1334.6 361.0 L1336.2 351.2 L1339.5 363.2 L1341.7 345.7 L1343.1 349.5 L1345.0 344.6 L1346.6 348.4 L1348.6 367.6 L1350.8 366.0 L1354.3 366.0 L1355.9 356.7 L1357.5 357.2 L1359.5 334.2 L1361.4 353.9 L1363.0 355.0 L1364.7 359.9 L1366.8 356.1 L1367.9 356.1 L1370.1 360.5 L1373.4 355.6 L1375.1 362.7 L1376.7 361.0 L1378.9 358.8 L1380.5 364.9 L1382.5 353.9 L1386.0 364.3 L1387.3 362.7 L1389.3 339.7 L1390.9 346.3 L1396.4 366.5 L1398.6 357.2" fill="none" stroke="#3d8ee6" stroke-width="1.5" stroke-linejoin="round"/></svg>
<div class="a" style="left:1075px;top:443.1px;width:9px;height:8.7px;background:#4a90e2;border-radius:1.5px"></div>
<div class="t" style="left:1088.40px;top:442.61px;font-size:9.2px;color:#4a4a4a;">avg:system.cpu.user{*}</div>
<div class="a" style="left:1046.4px;top:467.5px;width:359.4px;height:60px;border:1px solid #dde1e7;background:#fff"></div>
<div class="t" style="left:1051.60px;top:472.22px;font-size:12.5px;color:#27313b;">Avg of system.cpu.user over * by service</div>
<div class="a" style="left:1047.4px;top:491px;width:357.4px;height:1px;background:#dde1e7"></div>
<div class="a" style="left:1201.5px;top:496px;width:2.5px;height:1px;background:#f08a3c"></div>
</div></div>
<div class="a" style="left:1413px;top:145px;width:1px;height:357px;background:#e4e6ea"></div>
<div class="a" style="left:1414px;top:145px;width:13px;height:357px;background:#fafafa"></div>
<div class="a" style="left:1417px;top:148px;width:8px;height:80.5px;background:#c2c2c2;border-radius:4px"></div>
<svg style="left:1057.7px;top:535.8px" width="12.63" height="16.00" viewBox="0 0 15 19" preserveAspectRatio="none">
<defs><linearGradient id="lgpoa" x1="0" y1="1" x2="1" y2="0"><stop offset="0" stop-color="#ff4f7a"/><stop offset="1" stop-color="#ff7a2f"/></linearGradient>
<linearGradient id="lgpob" x1="0" y1="1" x2="1" y2="0"><stop offset="0" stop-color="#5b3df5"/><stop offset="1" stop-color="#3f7ff0"/></linearGradient>
<linearGradient id="lgpoc" x1="0" y1="0" x2="0.3" y2="1"><stop offset="0" stop-color="#4fe3cf"/><stop offset="1" stop-color="#30aee8"/></linearGradient></defs>
<path d="M0 6.3 L6.2 6.3 L6.2 0 C2.8 0 0 2.8 0 6.3Z" fill="url(#lgpoa)"/>
<path d="M0 7.9 L6.2 7.9 L6.2 12.7 C6.2 16.1 3.4 19 0 19Z" fill="url(#lgpob)"/>
<path d="M7.8 0 C11.6 0 15 3 15 6.9 C15 10.8 11.6 13.8 7.8 13.8Z" fill="url(#lgpoc)"/>
</svg>
<div class="t" style="left:1080.60px;top:536.69px;font-size:13.6px;color:#1a1a1a;-webkit-text-stroke:0.25px #1a1a1a;letter-spacing:0.19px;">Port Overview</div>
<div class="a" style="left:1040px;top:563px;width:388px;height:1px;background:#e7e9ec"></div>
<div class="a" style="left:1040px;top:564px;width:387px;height:357.5px;overflow:hidden"><div class="a" style="left:-1040px;top:-564px;width:1919px;height:934px">
<svg style="left:1068.5px;top:612.5px" width="27.3" height="26.2" viewBox="0 0 26 25"><g stroke="#b9b9b9" stroke-width="1.1" stroke-linecap="round" fill="none"><path d="M1.2 16.5 L4 19.5 M0.8 19.6 L3 21.8"/><path d="M19.5 1 Q22.5 2 23.6 5 M20.6 -0.6 Q24.6 0.6 25.6 4.6"/></g>
<path d="M7 20.6 Q3.6 16.6 4 13 Q4.3 11.6 5.6 12 L8.2 14.6 L4.2 7.4 Q3.6 5.8 5 5.4 Q6 5.2 6.8 6.4 L10.4 12 L7.2 4 Q6.8 2.4 8.2 2.2 Q9.2 2.1 9.8 3.4 L13.2 10.6 L11.6 3.6 Q11.4 2.2 12.6 2 Q13.8 1.9 14.2 3.2 L16.4 10.6 L16.6 7.6 Q17 6 18.4 6.2 Q19.6 6.6 19.4 8.4 L19.2 13.6 Q19.4 18.4 16.4 21.4 Q12.6 24.6 7 20.6Z" fill="#fbc02d" stroke="#e0a21c" stroke-width="0.6"/></svg>
<div class="t" style="left:1102.30px;top:614.04px;font-size:25.7px;color:#24292f;font-weight:700;">Welcome aboard!</div>
<div class="a" style="left:1069px;top:650.5px;width:326px;height:1px;background:#d8dee4"></div>
<div class="a" style="left:1069.2px;top:665.2px;width:354.5px;height:256.4px;overflow:hidden;background:linear-gradient(180deg,#1b1d4a 0%,#222a70 6%,#3342bf 14%,#3f55e0 22%,#4650e8 40%,#4a44ea 70%,#4b3ce6 100%)">
<svg style="left:0;top:0" width="355" height="257" viewBox="1069.2 665.2 354.5 256.4"><rect x="1142.6" y="723.2" width="320" height="189.5" rx="13" fill="#fff" stroke="#5e5e5e" stroke-width="1.4"/><rect x="1147.6" y="728.4" width="310" height="181.5" rx="10" fill="none" stroke="#a5a5a5" stroke-width="1"/><path d="M1398 717 Q1396 712 1401 712.5 L1412 713 Q1418 714 1418 720 L1417.5 731 Q1416.5 735.5 1412 735 L1403 733 Q1399 731 1400 726Z" fill="#e6e6e6" stroke="#666" stroke-width="0.9"/><path d="M1404 722 V732 M1408 721 V733.5 M1412 721 V733" stroke="#888" stroke-width="0.6"/></svg>
</div>
<div class="a" style="left:1078.7px;top:674.3px;width:32px;height:32px;border-radius:50%;background:#fff"></div>
<svg style="left:1086.5px;top:679px" width="17.76" height="22.50" viewBox="0 0 15 19" preserveAspectRatio="none">
<defs><linearGradient id="lgava" x1="0" y1="1" x2="1" y2="0"><stop offset="0" stop-color="#ff4f7a"/><stop offset="1" stop-color="#ff7a2f"/></linearGradient>
<linearGradient id="lgavb" x1="0" y1="1" x2="1" y2="0"><stop offset="0" stop-color="#5b3df5"/><stop offset="1" stop-color="#3f7ff0"/></linearGradient>
<linearGradient id="lgavc" x1="0" y1="0" x2="0.3" y2="1"><stop offset="0" stop-color="#4fe3cf"/><stop offset="1" stop-color="#30aee8"/></linearGradient></defs>
<path d="M0 6.3 L6.2 6.3 L6.2 0 C2.8 0 0 2.8 0 6.3Z" fill="url(#lgava)"/>
<path d="M0 7.9 L6.2 7.9 L6.2 12.7 C6.2 16.1 3.4 19 0 19Z" fill="url(#lgavb)"/>
<path d="M7.8 0 C11.6 0 15 3 15 6.9 C15 10.8 11.6 13.8 7.8 13.8Z" fill="url(#lgavc)"/>
</svg>
<div class="t" style="left:1119.20px;top:683.75px;font-size:14px;color:#f2f4ff;">Learn Port -</div>
<svg style="left:1196px;top:681.5px" width="16.1" height="15.5" viewBox="0 0 26 25"><g stroke="#b9b9b9" stroke-width="1.1" stroke-linecap="round" fill="none"><path d="M1.2 16.5 L4 19.5 M0.8 19.6 L3 21.8"/><path d="M19.5 1 Q22.5 2 23.6 5 M20.6 -0.6 Q24.6 0.6 25.6 4.6"/></g>
<path d="M7 20.6 Q3.6 16.6 4 13 Q4.3 11.6 5.6 12 L8.2 14.6 L4.2 7.4 Q3.6 5.8 5 5.4 Q6 5.2 6.8 6.4 L10.4 12 L7.2 4 Q6.8 2.4 8.2 2.2 Q9.2 2.1 9.8 3.4 L13.2 10.6 L11.6 3.6 Q11.4 2.2 12.6 2 Q13.8 1.9 14.2 3.2 L16.4 10.6 L16.6 7.6 Q17 6 18.4 6.2 Q19.6 6.6 19.4 8.4 L19.2 13.6 Q19.4 18.4 16.4 21.4 Q12.6 24.6 7 20.6Z" fill="#fbc02d" stroke="#e0a21c" stroke-width="0.6"/></svg>
<div class="t" style="left:1217.00px;top:683.75px;font-size:14px;color:#f2f4ff;">Port Overview</div>
<svg style="left:1233.4px;top:767px" width="43.74" height="55.40" viewBox="0 0 15 19" preserveAspectRatio="none">
<defs><linearGradient id="lglpa" x1="0" y1="1" x2="1" y2="0"><stop offset="0" stop-color="#ff4f7a"/><stop offset="1" stop-color="#ff7a2f"/></linearGradient>
<linearGradient id="lglpb" x1="0" y1="1" x2="1" y2="0"><stop offset="0" stop-color="#5b3df5"/><stop offset="1" stop-color="#3f7ff0"/></linearGradient>
<linearGradient id="lglpc" x1="0" y1="0" x2="0.3" y2="1"><stop offset="0" stop-color="#4fe3cf"/><stop offset="1" stop-color="#30aee8"/></linearGradient></defs>
<path d="M0 6.3 L6.2 6.3 L6.2 0 C2.8 0 0 2.8 0 6.3Z" fill="url(#lglpa)"/>
<path d="M0 7.9 L6.2 7.9 L6.2 12.7 C6.2 16.1 3.4 19 0 19Z" fill="url(#lglpb)"/>
<path d="M7.8 0 C11.6 0 15 3 15 6.9 C15 10.8 11.6 13.8 7.8 13.8Z" fill="url(#lglpc)"/>
</svg>
<svg style="left:1214px;top:754px" width="50" height="42" viewBox="0 0 50 42"><path d="M2 14 L28 1.5 L47 6 L22 19Z" fill="#fff" stroke="#222" stroke-width="1.3" stroke-linejoin="round"/><path d="M13 16 Q14 26 22 28 Q32 28 38 14 Q36 10 34 9" fill="#fff" stroke="#222" stroke-width="1.3" stroke-linejoin="round"/><path d="M14.5 20 Q24 24 37 13" fill="none" stroke="#222" stroke-width="0.9"/><path d="M8 16.5 L9.5 33" stroke="#222" stroke-width="1.1"/><path d="M7.6 32 L11.6 38 L9 32Z" fill="#222"/></svg>
<div class="t" style="left:1286.60px;top:751.00px;font-size:21.5px;color:#111;font-weight:700;letter-spacing:0.2px;">Learn</div>
<div class="t" style="left:1286.50px;top:757.10px;font-size:56px;color:#111;letter-spacing:2.4px;-webkit-text-stroke:2.2px #111;">port</div>
<div class="a" style="left:1298.4px;top:790px;width:53px;height:37.6px;background:#f61c0d;border-radius:10px"></div>
<svg style="left:1318px;top:800.5px" width="15" height="17" viewBox="0 0 15 17"><path d="M0 0 L14.5 8.5 L0 17Z" fill="#fff"/></svg>
<div class="t" style="left:1200.20px;width:200px;text-align:center;top:850.35px;font-size:19.2px;color:#141414;">Port Overview</div>
<div class="a" style="left:1069.2px;top:910.8px;width:137.3px;height:10.8px;background:rgba(24,24,44,0.88)"></div>
<div class="a" style="left:1206.5px;top:912.6px;width:217.2px;height:5px;background:#fff"></div>
<div class="a" style="left:1206.5px;top:917.6px;width:217.2px;height:4px;background:#3d45e8"></div>
</div></div>
<div class="a" style="left:1423.3px;top:564.6px;width:3.7px;height:67.7px;background:#e3e3e3;border-radius:2px"></div>
<div class="a" style="left:1px;top:1px;width:1918px;height:932px;border:2px solid rgba(0,0,0,0.5);pointer-events:none"></div>
</body></html>
